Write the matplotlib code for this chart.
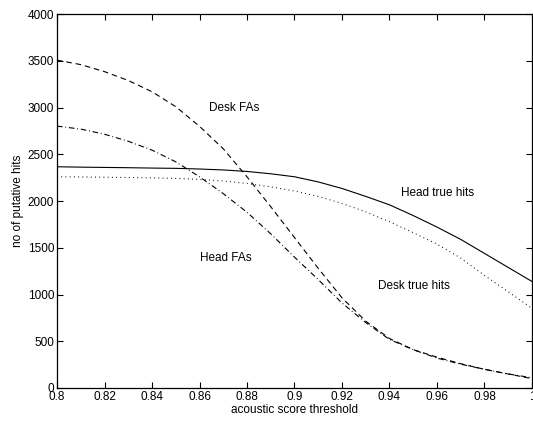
import matplotlib
matplotlib.use("Agg")
import matplotlib.pyplot as plt

plt.rcParams['font.family'] = ['Liberation Sans', 'DejaVu Sans']
plt.rcParams['font.size'] = 8.5

# acoustic score thresholds
thr = [0.80, 0.81, 0.82, 0.83, 0.84, 0.85, 0.86, 0.87, 0.88, 0.89, 0.90,
       0.91, 0.92, 0.93, 0.94, 0.95, 0.96, 0.97, 0.98, 0.99, 1.00]

head_true = [2367, 2363, 2360, 2357, 2353, 2350, 2343, 2333, 2317, 2292, 2260,
             2205, 2135, 2050, 1960, 1845, 1722, 1590, 1440, 1290, 1140]
desk_true = [2260, 2258, 2255, 2252, 2248, 2243, 2232, 2215, 2189, 2152, 2108,
             2050, 1975, 1885, 1779, 1662, 1540, 1390, 1205, 1030, 852]
desk_fa = [3508, 3460, 3385, 3290, 3170, 3010, 2800, 2560, 2260, 1940, 1610,
           1280, 965, 715, 530, 410, 330, 260, 200, 150, 100]
head_fa = [2802, 2770, 2715, 2640, 2545, 2420, 2260, 2080, 1880, 1650, 1400,
           1160, 910, 700, 520, 410, 320, 255, 200, 150, 110]

xticks = [0.8, 0.82, 0.84, 0.86, 0.88, 0.9, 0.92, 0.94, 0.96, 0.98, 1]
xticklabels = ['0.8', '0.82', '0.84', '0.86', '0.88', '0.9', '0.92', '0.94', '0.96', '0.98', '1']
yticks = [0, 500, 1000, 1500, 2000, 2500, 3000, 3500, 4000]

fig = plt.figure(figsize=(5.33, 4.21), dpi=100)
ax = fig.add_axes([0.107, 0.0784, 0.891, 0.888])

lw = 0.8
ax.plot(thr, head_true, color='black', linestyle='-', linewidth=lw)
ax.plot(thr, desk_true, color='black', linestyle=(0, (0.8, 3)), linewidth=lw)
ax.plot(thr, desk_fa, color='black', linestyle=(0, (5, 3.5)), linewidth=lw)
ax.plot(thr, head_fa, color='black', linestyle=(0, (5, 2.5, 0.8, 2.5)), linewidth=lw)

ax.text(0.864, 3000, 'Desk FAs', va='center', ha='left')
ax.text(0.860, 1394, 'Head FAs', va='center', ha='left')
ax.text(0.945, 2091, 'Head true hits', va='center', ha='left')
ax.text(0.935, 1091, 'Desk true hits', va='center', ha='left')

ax.set_xlim(0.8, 1)
ax.set_ylim(0, 4000)
ax.set_xticks(xticks)
ax.set_xticklabels(xticklabels)
ax.set_yticks(yticks)
ax.tick_params(direction='in', top=True, right=True, length=4, width=0.8, pad=2)
for s in ax.spines.values():
    s.set_linewidth(0.9)

ax.set_xlabel('acoustic score threshold', labelpad=1)
ax.set_ylabel('no of putative hits', labelpad=3)

fig.savefig('out.png', dpi=100)
